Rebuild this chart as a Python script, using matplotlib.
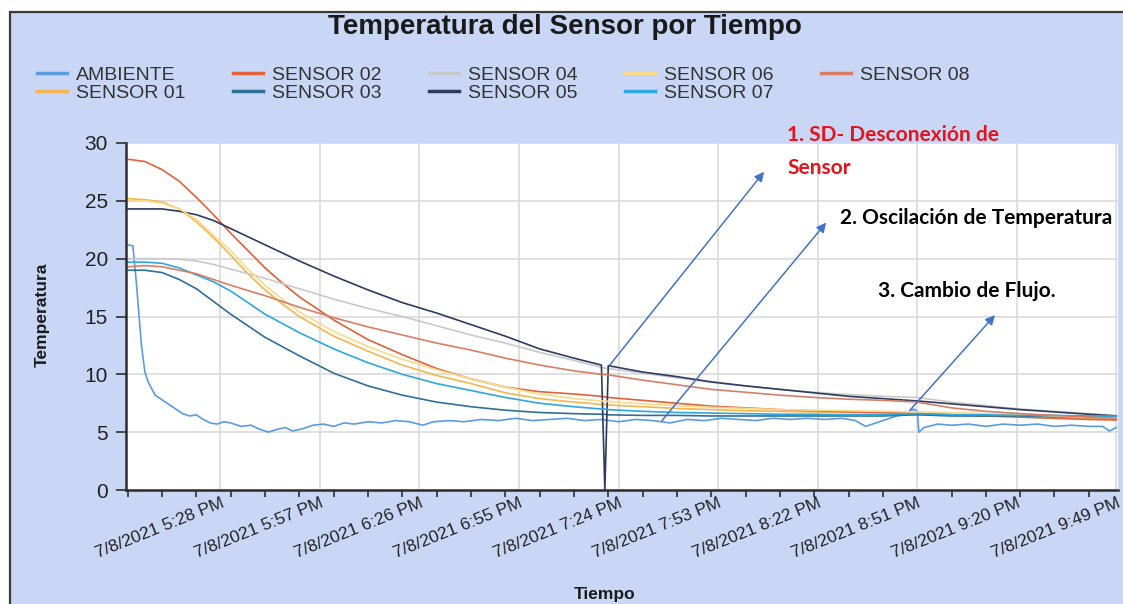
import numpy as np
import matplotlib
matplotlib.use("Agg")
import matplotlib.pyplot as plt
import matplotlib.dates as mdates
from matplotlib.patches import Rectangle
from matplotlib.ticker import FixedLocator

plt.rcParams['font.family'] = ['Liberation Sans', 'DejaVu Sans']

INICIO = np.datetime64('2021-07-08T17:01')

# minutos desde INICIO
MIN_SENSORES = [0, 5, 10, 15, 20, 25, 30, 35, 40, 45, 50, 60, 70, 80, 90, 100, 110, 120, 130, 138, 139,
                140, 150, 160, 170, 180, 190, 200, 210, 220, 230, 240, 250, 260, 270, 280, 288]

SENSOR_01 = [25.2, 25.1, 24.9, 24.3, 23.2, 21.8, 20.3, 18.7, 17.3, 16.1, 15.0, 13.3, 12.0, 10.8, 9.9,
             9.2, 8.4, 7.9, 7.6, 7.4, 7.4, 7.35, 7.2, 7.05, 6.95, 6.85, 6.8, 6.75, 6.7, 6.65, 6.6,
             6.55, 6.5, 6.4, 6.3, 6.2, 6.15]
SENSOR_02 = [28.6, 28.4, 27.7, 26.7, 25.3, 23.8, 22.2, 20.7, 19.2, 17.9, 16.7, 14.7, 13.0, 11.7, 10.5,
             9.6, 8.9, 8.5, 8.3, 8.1, 8.05, 8.0, 7.75, 7.5, 7.25, 7.1, 6.95, 6.85, 6.75, 6.7, 6.6,
             6.5, 6.4, 6.3, 6.2, 6.1, 6.05]
SENSOR_03 = [19.0, 19.0, 18.8, 18.2, 17.4, 16.3, 15.2, 14.2, 13.2, 12.4, 11.6, 10.1, 9.0, 8.2, 7.6,
             7.2, 6.9, 6.7, 6.6, 6.55, 6.55, 6.5, 6.45, 6.45, 6.4, 6.4, 6.4, 6.4, 6.4, 6.4, 6.5,
             6.4, 6.4, 6.4, 6.35, 6.35, 6.35]
SENSOR_04 = [20.0, 20.0, 20.0, 19.95, 19.8, 19.5, 19.1, 18.7, 18.3, 17.85, 17.4, 16.5, 15.7, 15.0, 14.2,
             13.4, 12.7, 11.9, 11.2, 10.6, 10.55, 10.5, 10.1, 9.7, 9.3, 9.0, 8.7, 8.45, 8.25, 8.1, 8.0,
             7.6, 7.3, 7.0, 6.8, 6.6, 6.45]
SENSOR_05 = [24.3, 24.3, 24.3, 24.1, 23.8, 23.3, 22.6, 21.9, 21.2, 20.5, 19.8, 18.5, 17.3, 16.2, 15.3,
             14.3, 13.3, 12.2, 11.4, 10.8, 0.0, 10.75, 10.2, 9.8, 9.35, 9.0, 8.7, 8.4, 8.1, 7.9, 7.7,
             7.45, 7.2, 6.95, 6.75, 6.55, 6.4]
SENSOR_06 = [25.0, 25.0, 24.8, 24.3, 23.4, 22.0, 20.7, 19.1, 17.7, 16.5, 15.4, 13.7, 12.4, 11.3, 10.4,
             9.6, 8.9, 8.3, 7.9, 7.7, 7.7, 7.65, 7.45, 7.3, 7.15, 7.05, 6.95, 6.9, 6.85, 6.8, 6.75,
             6.7, 6.6, 6.5, 6.4, 6.3, 6.25]
SENSOR_07 = [19.7, 19.7, 19.6, 19.2, 18.6, 18.0, 17.2, 16.2, 15.2, 14.4, 13.6, 12.2, 11.0, 10.0, 9.2,
             8.6, 8.0, 7.5, 7.2, 7.0, 7.0, 6.95, 6.8, 6.7, 6.65, 6.6, 6.55, 6.55, 6.5, 6.5, 6.6,
             6.5, 6.5, 6.45, 6.45, 6.4, 6.4]
SENSOR_08 = [19.3, 19.4, 19.3, 19.0, 18.7, 18.2, 17.7, 17.25, 16.8, 16.3, 15.8, 14.9, 14.1, 13.4, 12.7,
             12.1, 11.4, 10.8, 10.3, 10.0, 10.0, 9.95, 9.5, 9.1, 8.7, 8.45, 8.2, 8.0, 7.85, 7.75, 7.6,
             7.1, 6.8, 6.6, 6.45, 6.3, 6.2]

AMB_MIN = [0, 1.5, 2.5, 4, 5, 6, 8, 10, 12, 14, 16, 18, 20, 22, 24, 26, 28, 30, 33, 36, 38, 41, 43, 46,
           48, 51, 54, 57, 60, 63, 66, 70, 74, 78, 82, 86, 89, 94, 98, 103, 108, 113, 118, 123, 128,
           133, 138, 143, 148, 153, 158, 163, 168, 173, 178, 183, 188, 193, 198, 203, 208, 212, 215,
           218, 221, 224, 227, 229, 230, 230.5, 232, 236, 240, 245, 250, 255, 260, 265, 270, 275,
           280, 284, 286, 288]
AMBIENTE = [21.2, 21.1, 18.0, 12.5, 10.2, 9.3, 8.2, 7.8, 7.4, 7.0, 6.6, 6.4, 6.5, 6.1, 5.8, 5.7, 5.9,
            5.8, 5.5, 5.6, 5.3, 5.0, 5.2, 5.4, 5.1, 5.3, 5.6, 5.7, 5.5, 5.8, 5.7, 5.9, 5.8, 6.0, 5.9,
            5.6, 5.9, 6.0, 5.9, 6.1, 6.0, 6.2, 6.0, 6.1, 6.2, 6.0, 6.1, 5.9, 6.1, 6.0, 5.8, 6.1, 6.0,
            6.2, 6.1, 6.0, 6.2, 6.1, 6.2, 6.1, 6.2, 6.0, 5.5, 5.8, 6.1, 6.4, 6.6, 7.0, 6.8, 5.0, 5.4,
            5.7, 5.6, 5.7, 5.5, 5.7, 5.6, 5.7, 5.5, 5.6, 5.5, 5.5, 5.1, 5.4]

ETIQUETAS_X = ['2021-07-08T17:28', '2021-07-08T17:57', '2021-07-08T18:26', '2021-07-08T18:55',
               '2021-07-08T19:24', '2021-07-08T19:53', '2021-07-08T20:22', '2021-07-08T20:51',
               '2021-07-08T21:20', '2021-07-08T21:49']

# flechas de las notas: (minuto inicio, valor inicio, minuto punta, valor punta)
FLECHAS = [(139.9, 10.6, 185.9, 27.7),
           (155.1, 5.8, 204.0, 23.3),
           (227.3, 6.7, 253.2, 15.3)]


def a_fecha(minutos):
    return INICIO + (np.array(minutos) * 60).astype('timedelta64[s]')


series = [('AMBIENTE', AMB_MIN, AMBIENTE, '#5b9be0'),
          ('SENSOR 01', MIN_SENSORES, SENSOR_01, '#f3b650'),
          ('SENSOR 02', MIN_SENSORES, SENSOR_02, '#e2603b'),
          ('SENSOR 03', MIN_SENSORES, SENSOR_03, '#2f6f98'),
          ('SENSOR 04', MIN_SENSORES, SENSOR_04, '#c9c9c9'),
          ('SENSOR 05', MIN_SENSORES, SENSOR_05, '#2c3b5f'),
          ('SENSOR 06', MIN_SENSORES, SENSOR_06, '#f7db8a'),
          ('SENSOR 07', MIN_SENSORES, SENSOR_07, '#2ea6e0'),
          ('SENSOR 08', MIN_SENSORES, SENSOR_08, '#d77e67')]

fig = plt.figure(figsize=(11.23, 6.04), dpi=100)
fig.patch.set_facecolor('white')
fondo = Rectangle((10 / 1123, -0.01), 1.0, 1 - 12 / 604 + 0.01, transform=fig.transFigure,
                  facecolor='#c9d6f6', edgecolor='#3a3a3a', lw=1.6, zorder=-5)
fig.add_artist(fondo)

ax = fig.add_axes([126 / 1123, 1 - 490 / 604, (1118 - 126) / 1123, (490 - 143) / 604])
ax.set_facecolor('white')

lineas = []
for nombre, mins, vals, color in series:
    l, = ax.plot(a_fecha(mins), vals, color=color, lw=1.2, label=nombre)
    lineas.append(l)

ax.set_ylim(0, 30)
ax.set_xlim(INICIO - np.timedelta64(30, 's'), INICIO + np.timedelta64(288 * 60 + 30, 's'))
ax.set_yticks(range(0, 31, 5))
ax.xaxis.set_major_locator(FixedLocator(mdates.date2num(np.array(ETIQUETAS_X, dtype='datetime64[m]'))))
ax.xaxis.set_major_formatter(mdates.DateFormatter('%-m/%-d/%Y %-I:%M %p'))
ax.xaxis.set_minor_locator(mdates.MinuteLocator(byminute=[1, 11, 21, 31, 41, 51]))

for s in ['top', 'right']:
    ax.spines[s].set_visible(False)
for s in ['left', 'bottom']:
    ax.spines[s].set_color('#2e2e2e')
    ax.spines[s].set_linewidth(1.8)

ax.grid(True, color='#dadada', lw=1.2, zorder=0)
ax.set_axisbelow(True)
ax.tick_params(axis='y', length=7, width=1.2, color='#2e2e2e', labelsize=15, labelcolor='#222222', pad=6)
ax.tick_params(axis='x', which='major', length=0, labelsize=12.5, labelcolor='#222222', pad=4)
ax.tick_params(axis='x', which='minor', length=5, width=1.2, color='#2e2e2e')

fig.text(565 / 1123, 1 - 27 / 604, 'Temperatura del Sensor por Tiempo', ha='center', va='center',
         fontsize=20, fontweight='bold', color='#1a1a1a')
fig.text(605 / 1123, 1 - 595 / 604, 'Tiempo', ha='center', va='center', fontsize=12.5,
         fontweight='bold', color='#1a1a1a')
fig.text(42 / 1123, 1 - 315 / 604, 'Temperatura', ha='center', va='center', rotation=90,
         fontsize=12.5, fontweight='bold', color='#1a1a1a')

leg = fig.legend(handles=lineas, ncol=5, loc='upper left', bbox_to_anchor=(37 / 1123, 1 - 66 / 604),
                 frameon=False, fontsize=14, handlelength=1.55, handletextpad=0.45, columnspacing=2.45,
                 labelspacing=0.04, borderpad=0, borderaxespad=0)
for h in leg.get_lines():
    h.set_linewidth(2.5)
for t in leg.get_texts():
    t.set_color('#333333')

for x0, y0, x1, y1 in FLECHAS:
    ax.annotate('', xy=(mdates.date2num(a_fecha(x1)), y1), xytext=(mdates.date2num(a_fecha(x0)), y0),
                arrowprops=dict(arrowstyle='-|>', color='#4472c4', lw=1.1, mutation_scale=14),
                annotation_clip=False)

nota = dict(fontsize=15, fontweight='bold', family=['Lato', 'DejaVu Sans'], va='center', ha='left')
fig.text(787 / 1123, 1 - 135 / 604, '1. SD- Desconexión de', color='#e3141b', **nota)
fig.text(787 / 1123, 1 - 168 / 604, 'Sensor', color='#e3141b', **nota)
fig.text(840 / 1123, 1 - 218 / 604, '2. Oscilación de Temperatura', color='black', **nota)
fig.text(878 / 1123, 1 - 291 / 604, '3. Cambio de Flujo.', color='black', **nota)

# las etiquetas del eje x se giran despues de dibujar, cuando ya existen todos los ticks
fig.canvas.draw()
plt.setp(ax.get_xticklabels(), rotation=22, ha='right', va='top', rotation_mode='anchor')

fig.savefig('out.png', dpi=100)
